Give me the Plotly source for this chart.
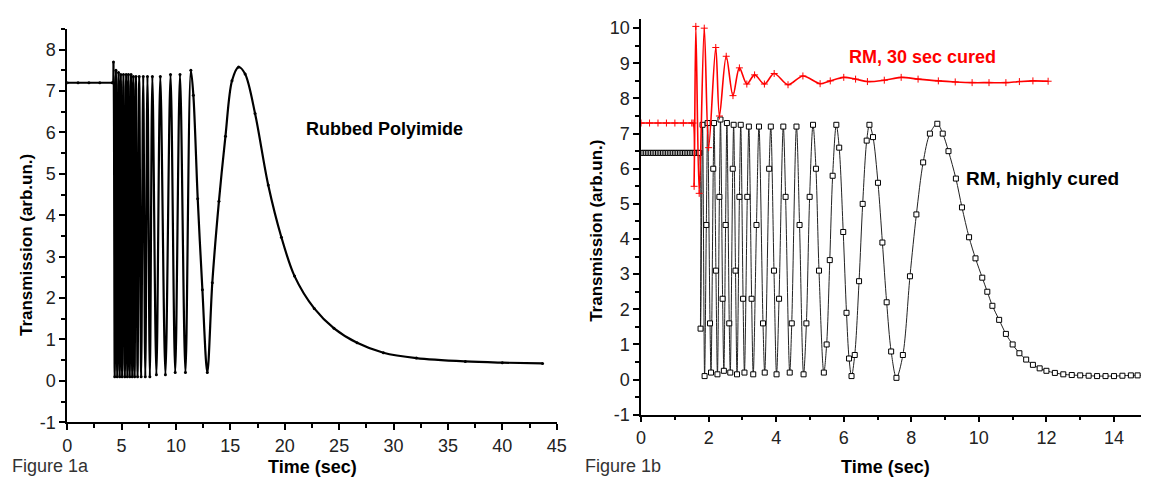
import plotly.graph_objects as go

# ---------------- Figure 1a : Rubbed Polyimide ----------------
a_time = [0.0, 1.0, 2.0, 3.0, 4.15, 4.2,
          4.26, 4.37, 4.48, 4.60, 4.72, 4.83, 4.93, 5.05, 5.17, 5.30, 5.42, 5.53,
          5.63, 5.75, 5.87, 5.98, 6.08, 6.20, 6.32, 6.47, 6.62, 6.80, 6.99, 7.18,
          7.38, 7.60, 7.83, 8.20, 8.56, 9.03, 9.50, 9.93, 10.37, 10.87, 11.37,
          11.6, 12.0, 12.43, 12.88, 13.34, 13.95, 14.55, 15.15, 15.76, 16.36,
          17.27, 18.48, 19.69, 20.9, 22.71, 24.53, 26.65, 29.07, 32.1, 36.6,
          40.0, 43.7]
a_trans = [7.2, 7.2, 7.2, 7.2, 7.2, 7.2,
           7.7, 0.1, 7.5, 0.1, 7.45, 0.1, 7.4, 0.1, 7.4, 0.1, 7.4, 0.1,
           7.4, 0.1, 7.4, 0.1, 7.35, 0.1, 7.35, 0.1, 7.35, 0.1, 7.35, 0.1,
           7.35, 0.1, 7.35, 0.15, 7.35, 0.15, 7.4, 0.2, 7.4, 0.2, 7.5,
           6.9, 4.4, 2.2, 0.2, 2.37, 4.34, 5.91, 7.25, 7.58, 7.41,
           6.46, 4.73, 3.47, 2.53, 1.75, 1.27, 0.92, 0.68, 0.55, 0.47,
           0.44, 0.42]

# ---------------- Figure 1b : RM, highly cured ----------------
b_high_time = [0.0, 0.05, 0.1, 0.15, 0.2, 0.25, 0.3, 0.35, 0.4, 0.45, 0.5, 0.55,
               0.6, 0.65, 0.7, 0.75, 0.8, 0.85, 0.9, 0.95, 1.0, 1.05, 1.1, 1.15,
               1.2, 1.25, 1.3, 1.35, 1.4, 1.45, 1.5, 1.55, 1.6, 1.65, 1.7, 1.72,
               1.76, 1.82, 1.88, 1.931, 1.97, 2.04, 2.07, 2.136, 2.16, 2.215,
               2.26, 2.318, 2.35, 2.413, 2.45, 2.501, 2.54, 2.61, 2.64, 2.713,
               2.74, 2.795, 2.84, 2.911, 2.95, 3.019, 3.06, 3.144, 3.19, 3.272,
               3.32, 3.416, 3.49, 3.609, 3.66, 3.791, 3.84, 3.934, 4.01, 4.084,
               4.21, 4.278, 4.40, 4.46, 4.60, 4.691, 4.81, 4.894, 4.99, 5.09,
               5.177, 5.267, 5.41, 5.493, 5.586, 5.671, 5.78, 5.865, 5.984,
               6.081, 6.157, 6.23, 6.325, 6.453, 6.56, 6.679, 6.76, 6.866,
               7.013, 7.144, 7.27, 7.403, 7.56, 7.75, 7.96, 8.15, 8.35, 8.55,
               8.77, 8.93, 9.1, 9.32, 9.5, 9.71, 9.9, 10.1, 10.25, 10.4, 10.6,
               10.8, 11.0, 11.2, 11.4, 11.6, 11.8, 12.0, 12.25, 12.5, 12.75,
               13.0, 13.25, 13.5, 13.75, 14.0, 14.25, 14.5, 14.7, 14.9]
b_high_trans = [6.45, 6.45, 6.45, 6.45, 6.45, 6.45, 6.45, 6.45, 6.45, 6.45, 6.45,
                6.45, 6.45, 6.45, 6.45, 6.45, 6.45, 6.45, 6.45, 6.45, 6.45, 6.45,
                6.45, 6.45, 6.45, 6.45, 6.45, 6.45, 6.45, 6.45, 6.45, 6.45, 6.45,
                6.45, 6.45, 6.45,
                1.45, 7.25, 0.1, 4.4, 7.3, 1.6, 0.2, 6.0, 7.3, 3.1,
                0.15, 5.2, 7.4, 2.3, 0.25, 4.4, 7.3, 1.6, 0.2, 6.0,
                7.25, 3.1, 0.15, 5.2, 7.25, 2.3, 0.2, 5.2, 7.2, 2.3,
                0.15, 4.4, 7.2, 1.6, 0.2, 6.0, 7.2, 3.1, 0.15, 2.3,
                7.2, 5.2, 0.2, 1.6, 7.2, 4.4, 0.15, 1.6, 5.2, 7.25,
                6.0, 3.1, 0.2, 1.0, 3.4, 5.8, 7.25, 6.6, 4.2,
                1.9, 0.6, 0.1, 0.7, 2.8, 5.0, 6.8, 7.25, 6.9,
                5.6, 3.9, 2.2, 0.8, 0.05, 0.7, 2.94, 4.7, 6.18, 7.0,
                7.28, 7.0, 6.5, 5.72, 4.9, 4.05, 3.45, 2.9, 2.5, 2.1, 1.7,
                1.3, 1.0, 0.75, 0.57, 0.42, 0.32, 0.25, 0.19, 0.15, 0.13,
                0.12, 0.11, 0.1, 0.1, 0.1, 0.11, 0.12, 0.12, 0.12]

# ---------------- Figure 1b : RM, 30 sec cured ----------------
b_30s_time = [0.0, 0.25, 0.5, 0.75, 1.0, 1.25, 1.50, 1.54, 1.57, 1.62, 1.72, 1.87,
              2.0, 2.21, 2.32, 2.52, 2.72, 2.91, 3.13, 3.36, 3.65, 3.94, 4.35,
              4.79, 5.3, 5.6, 6.0, 6.35, 6.7, 7.2, 7.7, 8.2, 8.8, 9.3, 9.8,
              10.3, 10.8, 11.2, 11.6, 12.05]
b_30s_trans = [7.3, 7.3, 7.3, 7.3, 7.3, 7.3, 7.3, 7.3, 5.5, 10.05, 5.3, 10.0,
               6.6, 9.45, 7.5, 9.2, 8.08, 8.87, 8.41, 8.67, 8.41, 8.71, 8.39,
               8.64, 8.42, 8.5, 8.6, 8.55, 8.48, 8.52, 8.6, 8.55, 8.5, 8.47,
               8.45, 8.45, 8.45, 8.48, 8.5, 8.49]

y1_ticks = [-1, 0, 1, 2, 3, 4, 5, 6, 7, 8]
y2_ticks = [-1, 0, 1, 2, 3, 4, 5, 6, 7, 8, 9, 10]

W, H = 1151, 487
FONT = "Liberation Sans, Arial, sans-serif"

fig = go.Figure()
fig.add_trace(go.Scatter(x=a_time, y=a_trans, mode="lines+markers",
                         line=dict(color="black", width=2.2, shape="spline", smoothing=0.9),
                         marker=dict(symbol="circle", size=3, color="black"),
                         xaxis="x", yaxis="y", showlegend=False))
fig.add_trace(go.Scatter(x=b_high_time, y=b_high_trans, mode="lines+markers",
                         line=dict(color="#222222", width=1, shape="spline", smoothing=0.9),
                         marker=dict(symbol="square", size=5, color="white",
                                     line=dict(color="black", width=1)),
                         xaxis="x2", yaxis="y2", showlegend=False))
fig.add_trace(go.Scatter(x=b_30s_time, y=b_30s_trans, mode="lines+markers",
                         line=dict(color="red", width=1.6, shape="spline", smoothing=0.9),
                         marker=dict(symbol="cross-thin", size=5, color="red",
                                     line=dict(color="red", width=1)),
                         xaxis="x2", yaxis="y2", showlegend=False))

axis_common = dict(showline=True, linecolor="black", linewidth=1.5, ticks="outside",
                   ticklen=6, tickwidth=1.5, tickcolor="black", showgrid=False,
                   zeroline=False, tickfont=dict(family=FONT, size=18, color="#222"),
                   fixedrange=True)

def minor(d):
    return dict(dtick=d, ticklen=4, tickwidth=1.5, tickcolor="black", ticks="outside")

fig.update_layout(
    width=W, height=H, margin=dict(l=0, r=0, t=0, b=0),
    paper_bgcolor="white", plot_bgcolor="white",
    xaxis=dict(domain=[63 / W, 559 / W], range=[0, 45], dtick=5, anchor="y",
               minor=minor(2.5), **axis_common),
    yaxis=dict(domain=[(H - 431) / H, (H - 28.6) / H], range=[-1, 8.5], anchor="x",
               tickmode="array", tickvals=y1_ticks, ticktext=[str(v) for v in y1_ticks],
               minor=minor(0.5), **axis_common),
    xaxis2=dict(domain=[644.5 / W, 1.0], range=[0, 14.8], dtick=2, anchor="y2",
                minor=minor(1), **axis_common),
    yaxis2=dict(domain=[(H - 423.3) / H, (H - 18.8) / H], range=[-1, 10.25], anchor="x2",
                tickmode="array", tickvals=y2_ticks, ticktext=[str(v) for v in y2_ticks],
                minor=minor(0.5), **axis_common),
)

def ann(text, px, py, size, color="black", bold=True, angle=0, xanchor="center"):
    t = f"<b>{text}</b>" if bold else text
    fig.add_annotation(text=t, x=px / W, y=1 - py / H, xref="paper", yref="paper",
                       showarrow=False, textangle=angle, xanchor=xanchor, yanchor="middle",
                       font=dict(family=FONT, size=size, color=color))

ann("Rubbed Polyimide", 385, 131, 18)
ann("RM, 30 sec cured", 930, 57, 18, color="red")
ann("RM, highly cured", 1051, 182, 19)
ann("Time (sec)", 312, 477, 18)
ann("Time (sec)", 892, 477, 18)
ann("Transmission (arb.un.)", 22, 250, 17, angle=-90)
ann("Transmission (arb.un.)", 600, 235, 17, angle=-90)
ann("Figure 1a", 5, 476, 18, color="#333", bold=False, xanchor="left")
ann("Figure 1b", 586, 476, 18, color="#333", bold=False, xanchor="left")

fig.write_html("out.html")
